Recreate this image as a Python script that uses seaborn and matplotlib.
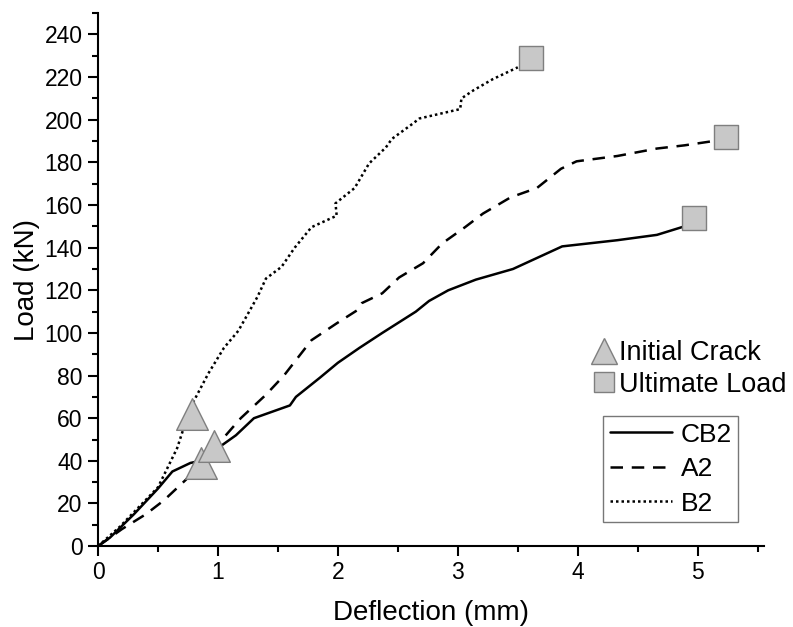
import pandas as pd
import matplotlib
matplotlib.use("Agg")
import matplotlib.pyplot as plt
from matplotlib.lines import Line2D
from matplotlib.ticker import MultipleLocator
import seaborn as sns

# ugiecie (mm) i obciazenie (kN)
cb2_x = [0.0, 0.1, 0.3, 0.5, 0.62, 0.77, 0.85, 0.95, 1.05, 1.15, 1.3, 1.45, 1.6, 1.65, 1.85,
         2.0, 2.18, 2.37, 2.65, 2.76, 2.92, 3.15, 3.46, 3.87, 4.33, 4.66, 4.89]
cb2_y = [0, 4, 15, 27, 35, 39, 40, 44, 48, 52, 60, 63, 66, 70, 79,
         86, 93, 100, 110, 115, 120, 125, 130, 140.6, 143.5, 146, 150]

a2_x = [0.0, 0.2, 0.4, 0.55, 0.73, 0.92, 1.05, 1.19, 1.4, 1.55, 1.78, 1.99, 2.16, 2.2,
        2.37, 2.51, 2.71, 2.87, 3.06, 3.21, 3.44, 3.66, 3.86, 3.99, 4.33, 4.66, 4.89, 5.13]
a2_y = [0, 8, 15, 21.5, 31, 42, 51, 60, 71, 80, 96.6, 104.5, 110.6, 114,
        118.6, 126, 132.7, 142, 149.6, 156, 163.6, 168, 177, 180.5, 183, 186.5, 188, 190]

b2_x = [0.0, 0.18, 0.5, 0.66, 0.77, 0.92, 1.05, 1.17, 1.28, 1.33, 1.40, 1.53, 1.64, 1.78,
        1.99, 1.98, 2.14, 2.26, 2.40, 2.45, 2.62, 2.68, 3.02, 3.03, 3.13, 3.29, 3.50]
b2_y = [0, 9, 27.6, 46, 65, 81, 93, 101, 112, 117, 125.5, 131, 140, 149.6,
        155, 160.8, 168, 179.5, 187, 191, 198, 200.6, 205, 210, 213.8, 219, 224.6]

crack_x = [0.78, 0.86, 0.97]
crack_y = [62, 39, 47]
ult_x = [3.61, 4.97, 5.24]
ult_y = [229, 154, 192]

series = [("CB2", cb2_x, cb2_y), ("A2", a2_x, a2_y), ("B2", b2_x, b2_y)]
df = pd.concat([pd.DataFrame({"x": xs, "y": ys, "s": name}) for name, xs, ys in series],
               ignore_index=True)

sns.set_style("ticks")
plt.rcParams['font.family'] = ['Liberation Sans', 'DejaVu Sans']
plt.rcParams['text.color'] = "black"
plt.rcParams['axes.labelcolor'] = "black"

fig = plt.figure(figsize=(7.93, 6.27), dpi=100)
ax = fig.add_axes([0.1236, 0.129, 0.8394, 0.85])

styles = {"CB2": "-", "A2": (0, (5, 3.5)), "B2": (0, (1, 1.2))}
for name, xs, ys in series:
    sns.lineplot(data=df[df.s == name], x="x", y="y", ax=ax, color="black",
                 linewidth=1.8, linestyle=styles[name], sort=False, estimator=None)

mk = dict(color="#c8c8c8", edgecolor="#7f7f7f", linewidth=1.0, zorder=5)
sns.scatterplot(x=crack_x, y=crack_y, marker="^", s=520, ax=ax, **mk)
sns.scatterplot(x=ult_x, y=ult_y, marker="s", s=280, ax=ax, **mk)

ax.set_xlim(0, 5.55)
ax.set_ylim(0, 250)
ax.xaxis.set_major_locator(MultipleLocator(1))
ax.xaxis.set_minor_locator(MultipleLocator(0.5))
ax.yaxis.set_minor_locator(MultipleLocator(10))
ax.set_yticks(range(0, 241, 20))
ax.tick_params(which="major", length=7, width=1.5, labelsize=16.5, colors="black", pad=4)
ax.tick_params(which="minor", length=4, width=1.5, colors="black")
for sp in ["left", "bottom"]:
    ax.spines[sp].set_linewidth(1.5)
    ax.spines[sp].set_color("black")
sns.despine(ax=ax)
ax.set_xlabel("Deflection (mm)", fontsize=20, labelpad=11)
ax.set_ylabel("Load (kN)", fontsize=20, labelpad=3)

mk_handles = [
    Line2D([], [], linestyle="none", marker="^", markersize=19, markerfacecolor="#c8c8c8",
           markeredgecolor="#7f7f7f", label="Initial Crack"),
    Line2D([], [], linestyle="none", marker="s", markersize=15, markerfacecolor="#c8c8c8",
           markeredgecolor="#7f7f7f", label="Ultimate Load"),
]
leg1 = ax.legend(handles=mk_handles, loc="upper left", bbox_to_anchor=(592 / 793, 1 - 340 / 627),
                 bbox_transform=fig.transFigure, frameon=False, fontsize=19.5,
                 handlelength=0.9, handletextpad=0.1, labelspacing=0.22, borderpad=0,
                 borderaxespad=0)
ax.add_artist(leg1)

ln_handles = [Line2D([], [], color="black", linewidth=1.8, linestyle=styles[n], label=n)
              for n, _, _ in series]
ax.legend(handles=ln_handles, loc="upper left", bbox_to_anchor=(603 / 793, 1 - 416 / 627),
          bbox_transform=fig.transFigure, fontsize=19, frameon=True, fancybox=False,
          edgecolor="#555555", handlelength=2.35, handletextpad=0.34, labelspacing=0.4,
          borderpad=0.25, borderaxespad=0)

fig.savefig("out.png", dpi=100)
